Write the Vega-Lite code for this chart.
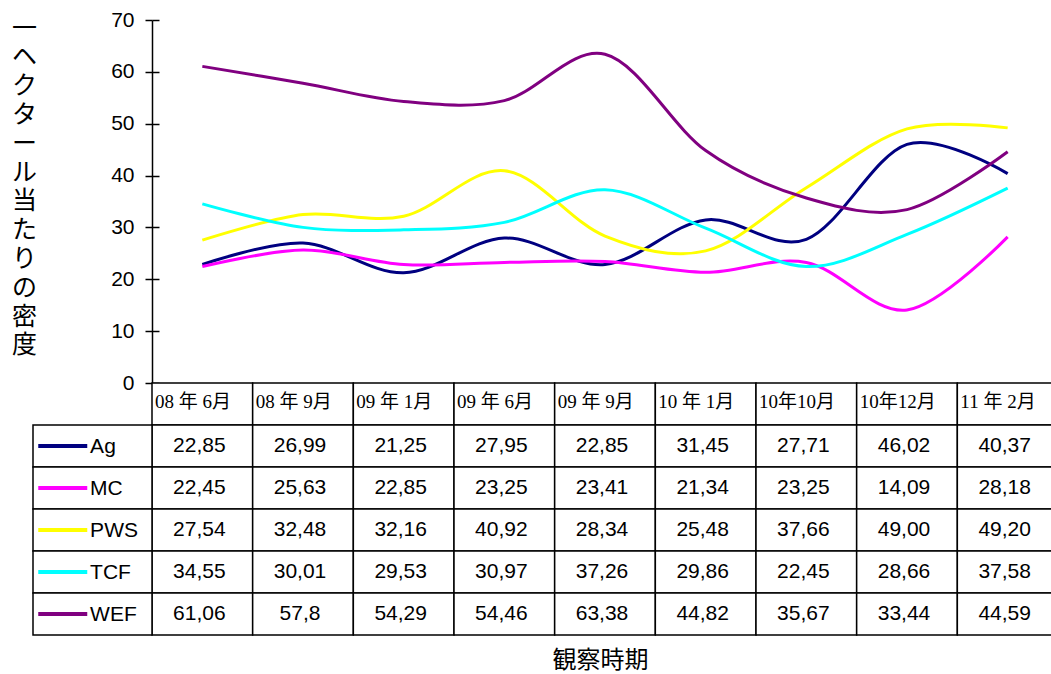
{
  "$schema": "https://vega.github.io/schema/vega-lite/v6.json",
  "width": 899,
  "height": 363,
  "autosize": {"type": "none"},
  "padding": {"left": 152, "top": 20, "right": 0, "bottom": 291},
  "background": "white",
  "config": {"view": {"stroke": null}, "font": "Liberation Sans"},
  "data": {"values": [
    {"series": "Ag", "period": "08 年 6月", "value": 22.85, "label": "22,85"},
    {"series": "Ag", "period": "08 年 9月", "value": 26.99, "label": "26,99"},
    {"series": "Ag", "period": "09 年 1月", "value": 21.25, "label": "21,25"},
    {"series": "Ag", "period": "09 年 6月", "value": 27.95, "label": "27,95"},
    {"series": "Ag", "period": "09 年 9月", "value": 22.85, "label": "22,85"},
    {"series": "Ag", "period": "10 年 1月", "value": 31.45, "label": "31,45"},
    {"series": "Ag", "period": "10年10月", "value": 27.71, "label": "27,71"},
    {"series": "Ag", "period": "10年12月", "value": 46.02, "label": "46,02"},
    {"series": "Ag", "period": "11 年 2月", "value": 40.37, "label": "40,37"},
    {"series": "MC", "period": "08 年 6月", "value": 22.45, "label": "22,45"},
    {"series": "MC", "period": "08 年 9月", "value": 25.63, "label": "25,63"},
    {"series": "MC", "period": "09 年 1月", "value": 22.85, "label": "22,85"},
    {"series": "MC", "period": "09 年 6月", "value": 23.25, "label": "23,25"},
    {"series": "MC", "period": "09 年 9月", "value": 23.41, "label": "23,41"},
    {"series": "MC", "period": "10 年 1月", "value": 21.34, "label": "21,34"},
    {"series": "MC", "period": "10年10月", "value": 23.25, "label": "23,25"},
    {"series": "MC", "period": "10年12月", "value": 14.09, "label": "14,09"},
    {"series": "MC", "period": "11 年 2月", "value": 28.18, "label": "28,18"},
    {"series": "PWS", "period": "08 年 6月", "value": 27.54, "label": "27,54"},
    {"series": "PWS", "period": "08 年 9月", "value": 32.48, "label": "32,48"},
    {"series": "PWS", "period": "09 年 1月", "value": 32.16, "label": "32,16"},
    {"series": "PWS", "period": "09 年 6月", "value": 40.92, "label": "40,92"},
    {"series": "PWS", "period": "09 年 9月", "value": 28.34, "label": "28,34"},
    {"series": "PWS", "period": "10 年 1月", "value": 25.48, "label": "25,48"},
    {"series": "PWS", "period": "10年10月", "value": 37.66, "label": "37,66"},
    {"series": "PWS", "period": "10年12月", "value": 49.0, "label": "49,00"},
    {"series": "PWS", "period": "11 年 2月", "value": 49.2, "label": "49,20"},
    {"series": "TCF", "period": "08 年 6月", "value": 34.55, "label": "34,55"},
    {"series": "TCF", "period": "08 年 9月", "value": 30.01, "label": "30,01"},
    {"series": "TCF", "period": "09 年 1月", "value": 29.53, "label": "29,53"},
    {"series": "TCF", "period": "09 年 6月", "value": 30.97, "label": "30,97"},
    {"series": "TCF", "period": "09 年 9月", "value": 37.26, "label": "37,26"},
    {"series": "TCF", "period": "10 年 1月", "value": 29.86, "label": "29,86"},
    {"series": "TCF", "period": "10年10月", "value": 22.45, "label": "22,45"},
    {"series": "TCF", "period": "10年12月", "value": 28.66, "label": "28,66"},
    {"series": "TCF", "period": "11 年 2月", "value": 37.58, "label": "37,58"},
    {"series": "WEF", "period": "08 年 6月", "value": 61.06, "label": "61,06"},
    {"series": "WEF", "period": "08 年 9月", "value": 57.8, "label": "57,8"},
    {"series": "WEF", "period": "09 年 1月", "value": 54.29, "label": "54,29"},
    {"series": "WEF", "period": "09 年 6月", "value": 54.46, "label": "54,46"},
    {"series": "WEF", "period": "09 年 9月", "value": 63.38, "label": "63,38"},
    {"series": "WEF", "period": "10 年 1月", "value": 44.82, "label": "44,82"},
    {"series": "WEF", "period": "10年10月", "value": 35.67, "label": "35,67"},
    {"series": "WEF", "period": "10年12月", "value": 33.44, "label": "33,44"},
    {"series": "WEF", "period": "11 年 2月", "value": 44.59, "label": "44,59"}
  ]},
  "resolve": {"scale": {"x": "independent", "y": "independent"}, "axis": {"x": "independent", "y": "independent"}},
  "layer": [
    {
      "layer": [
        {
          "transform": [{"aggregate": [{"op": "count", "as": "n"}], "groupby": ["period"]}],
          "mark": {"type": "rect", "fill": "white", "stroke": "black", "strokeWidth": 1.5},
          "encoding": {
            "x": {"field": "period", "type": "nominal",
              "scale": {"type": "band", "domain": ["08 年 6月","08 年 9月","09 年 1月","09 年 6月","09 年 9月","10 年 1月","10年10月","10年12月","11 年 2月"], "range": [0, 906], "paddingInner": 0, "paddingOuter": 0},
              "axis": {"title": "観察時期", "labels": false, "ticks": false, "domain": false, "grid": false, "titleY": 277, "titleX": 448, "titleBaseline": "middle", "titleAlign": "center", "titleFontSize": 24, "titleFont": "Noto Sans CJK JP", "titleFontWeight": "normal", "titleColor": "black"}},
            "y": {"datum": "header", "type": "nominal",
              "scale": {"type": "band", "domain": ["header","Ag","MC","PWS","TCF","WEF"], "range": [363, 615], "paddingInner": 0, "paddingOuter": 0},
              "axis": null}
          }
        },
        {
          "transform": [{"aggregate": [{"op": "count", "as": "n"}], "groupby": ["period"]}],
          "mark": {"type": "text", "align": "left", "baseline": "middle", "dx": 3, "dy": -2, "fontSize": 19, "font": "Liberation Serif, Noto Sans CJK JP", "color": "black"},
          "encoding": {
            "x": {"field": "period", "type": "nominal", "bandPosition": 0,
              "scale": {"type": "band", "domain": ["08 年 6月","08 年 9月","09 年 1月","09 年 6月","09 年 9月","10 年 1月","10年10月","10年12月","11 年 2月"], "range": [0, 906], "paddingInner": 0, "paddingOuter": 0},
              "axis": {"title": "観察時期", "labels": false, "ticks": false, "domain": false, "grid": false, "titleY": 277, "titleX": 448, "titleBaseline": "middle", "titleAlign": "center", "titleFontSize": 24, "titleFont": "Noto Sans CJK JP", "titleFontWeight": "normal", "titleColor": "black"}},
            "y": {"datum": "header", "type": "nominal", "bandPosition": 0.5,
              "scale": {"type": "band", "domain": ["header","Ag","MC","PWS","TCF","WEF"], "range": [363, 615], "paddingInner": 0, "paddingOuter": 0},
              "axis": null},
            "text": {"field": "period"}
          }
        },
        {
          "mark": {"type": "rect", "fill": "white", "stroke": "black", "strokeWidth": 1.5},
          "encoding": {
            "x": {"field": "period", "type": "nominal",
              "scale": {"type": "band", "domain": ["08 年 6月","08 年 9月","09 年 1月","09 年 6月","09 年 9月","10 年 1月","10年10月","10年12月","11 年 2月"], "range": [0, 906], "paddingInner": 0, "paddingOuter": 0},
              "axis": {"title": "観察時期", "labels": false, "ticks": false, "domain": false, "grid": false, "titleY": 277, "titleX": 448, "titleBaseline": "middle", "titleAlign": "center", "titleFontSize": 24, "titleFont": "Noto Sans CJK JP", "titleFontWeight": "normal", "titleColor": "black"}},
            "y": {"field": "series", "type": "nominal",
              "scale": {"type": "band", "domain": ["header","Ag","MC","PWS","TCF","WEF"], "range": [363, 615], "paddingInner": 0, "paddingOuter": 0},
              "axis": null}
          }
        },
        {
          "mark": {"type": "text", "align": "center", "baseline": "middle", "dx": -3, "dy": 0, "fontSize": 21, "font": "Liberation Sans", "color": "black"},
          "encoding": {
            "x": {"field": "period", "type": "nominal", "bandPosition": 0.5,
              "scale": {"type": "band", "domain": ["08 年 6月","08 年 9月","09 年 1月","09 年 6月","09 年 9月","10 年 1月","10年10月","10年12月","11 年 2月"], "range": [0, 906], "paddingInner": 0, "paddingOuter": 0},
              "axis": {"title": "観察時期", "labels": false, "ticks": false, "domain": false, "grid": false, "titleY": 277, "titleX": 448, "titleBaseline": "middle", "titleAlign": "center", "titleFontSize": 24, "titleFont": "Noto Sans CJK JP", "titleFontWeight": "normal", "titleColor": "black"}},
            "y": {"field": "series", "type": "nominal", "bandPosition": 0.5,
              "scale": {"type": "band", "domain": ["header","Ag","MC","PWS","TCF","WEF"], "range": [363, 615], "paddingInner": 0, "paddingOuter": 0},
              "axis": null},
            "text": {"field": "label"}
          }
        }
      ]
    },
    {
      "transform": [{"aggregate": [{"op": "count", "as": "n"}], "groupby": ["series"]}],
      "layer": [
        {
          "mark": {"type": "rect", "fill": "white", "stroke": "black", "strokeWidth": 1.5},
          "encoding": {
            "x": {"datum": "legend", "type": "nominal",
              "scale": {"type": "band", "domain": ["legend"], "range": [-119, 0], "paddingInner": 0, "paddingOuter": 0}, "axis": null},
            "y": {"field": "series", "type": "nominal",
              "scale": {"type": "band", "domain": ["header","Ag","MC","PWS","TCF","WEF"], "range": [363, 615], "paddingInner": 0, "paddingOuter": 0}, "axis": null}
          }
        },
        {
          "mark": {"type": "point", "shape": "stroke", "size": 2401, "strokeWidth": 4, "filled": false, "opacity": 1},
          "encoding": {
            "x": {"datum": "legend", "type": "nominal", "bandPosition": 0.25,
              "scale": {"type": "band", "domain": ["legend"], "range": [-119, 0], "paddingInner": 0, "paddingOuter": 0}, "axis": null},
            "y": {"field": "series", "type": "nominal", "bandPosition": 0.5,
              "scale": {"type": "band", "domain": ["header","Ag","MC","PWS","TCF","WEF"], "range": [363, 615], "paddingInner": 0, "paddingOuter": 0}, "axis": null},
            "color": {"field": "series", "type": "nominal",
              "scale": {"domain": ["Ag","MC","PWS","TCF","WEF"], "range": ["#000080","#ff00ff","#ffff00","#00ffff","#800080"]}, "legend": null}
          }
        },
        {
          "mark": {"type": "text", "align": "left", "baseline": "middle", "fontSize": 21, "font": "Liberation Sans", "color": "black", "dy": 1},
          "encoding": {
            "x": {"datum": "legend", "type": "nominal", "bandPosition": 0.48,
              "scale": {"type": "band", "domain": ["legend"], "range": [-119, 0], "paddingInner": 0, "paddingOuter": 0}, "axis": null},
            "y": {"field": "series", "type": "nominal", "bandPosition": 0.5,
              "scale": {"type": "band", "domain": ["header","Ag","MC","PWS","TCF","WEF"], "range": [363, 615], "paddingInner": 0, "paddingOuter": 0}, "axis": null},
            "text": {"field": "series"}
          }
        }
      ]
    },
    {
      "mark": {"type": "point", "opacity": 0, "size": 1},
      "encoding": {
        "y": {"field": "value", "type": "quantitative",
          "scale": {"domain": [0, 70], "nice": false},
          "axis": {"orient": "left", "values": [0, 10, 20, 30, 40, 50, 60, 70], "grid": false, "domain": false, "labels": false, "title": null, "ticks": true, "tickColor": "black", "tickSize": -7, "tickWidth": 1.5}}
      }
    },
    {
      "mark": {"type": "line", "interpolate": "cardinal", "strokeWidth": 3},
      "encoding": {
        "x": {"field": "period", "type": "nominal", "bandPosition": 0.5,
          "scale": {"type": "band", "domain": ["08 年 6月","08 年 9月","09 年 1月","09 年 6月","09 年 9月","10 年 1月","10年10月","10年12月","11 年 2月"], "range": [0, 906], "paddingInner": 0, "paddingOuter": 0},
          "axis": null},
        "y": {"field": "value", "type": "quantitative",
          "scale": {"domain": [0, 70], "nice": false},
          "axis": {"orient": "left", "values": [0, 10, 20, 30, 40, 50, 60, 70], "grid": false, "domainColor": "black", "domainWidth": 1.5, "tickColor": "black", "tickSize": 7, "tickWidth": 1.5, "labelFontSize": 21, "labelColor": "black", "labelFont": "Liberation Sans", "labelPadding": 11,
            "title": ["一","ヘ","ク","タ","ー","ル","当","た","り","の","密","度"],
            "titleAngle": 0, "titleX": -128, "titleY": 8, "titleAlign": "center", "titleBaseline": "middle", "titleFontSize": 25, "titleLineHeight": 28.8, "titleFont": "Noto Sans CJK JP", "titleFontWeight": "normal", "titleColor": "black"}},
        "color": {"field": "series", "type": "nominal",
          "scale": {"domain": ["Ag","MC","PWS","TCF","WEF"], "range": ["#000080","#ff00ff","#ffff00","#00ffff","#800080"]}, "legend": null}
      }
    }
  ]
}
